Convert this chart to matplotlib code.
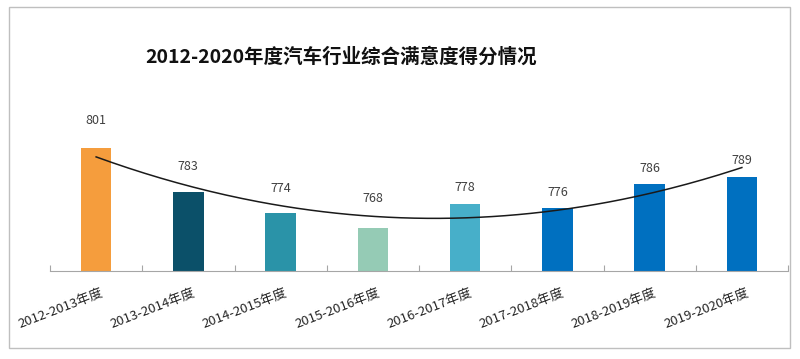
import numpy as np
import matplotlib
matplotlib.use("Agg")
import matplotlib.pyplot as plt
from matplotlib.patches import Rectangle

plt.rcParams['font.family'] = ['Noto Sans CJK SC', 'DejaVu Sans']

# ── data ─────────────────────────────────────────────
categories = ['2012-2013年度', '2013-2014年度', '2014-2015年度', '2015-2016年度',
              '2016-2017年度', '2017-2018年度', '2018-2019年度', '2019-2020年度']
scores = [801, 783, 774, 768, 778, 776, 786, 789]
title = '2012-2020年度汽车行业综合满意度得分情况'

# ── style ────────────────────────────────────────────
bar_colors = ['#F59D3D', '#0B5069', '#2A93A8', '#95CBB5',
              '#47AFC9', '#0070C0', '#0070C0', '#0070C0']
label_pad_pt = [15, 13, 13, 16, 7, 7, 7, 7]

W, H = 800, 359
fig = plt.figure(figsize=(W / 100, H / 100), dpi=100)

# outer frame
fig.patches.append(Rectangle((9 / W, (H - 348) / H), 781 / W, 341 / H,
                             transform=fig.transFigure, fill=False,
                             edgecolor='#BFBFBF', linewidth=1.0))

ax = fig.add_axes([50 / W, (H - 271) / H, 738 / W, 171 / H])
x = np.arange(len(scores))
ax.bar(x, scores, width=0.33, color=bar_colors, bottom=0, zorder=2)
ax.set_xlim(-0.5, len(scores) - 0.5)
ax.set_ylim(750, 821)

# polynomial (order 2) trendline, like the spreadsheet one
coef = np.polyfit(x, scores, 2)
xs = np.linspace(0, len(scores) - 1, 200)
ax.plot(xs, np.polyval(coef, xs), color='#1A1A1A', linewidth=1.1, zorder=3)

for xi, v, pad in zip(x, scores, label_pad_pt):
    ax.annotate(str(v), (xi, v), xytext=(0, pad), textcoords='offset points',
                ha='center', va='bottom', fontsize=9, color='#404040')

for s in ['top', 'right', 'left']:
    ax.spines[s].set_visible(False)
ax.spines['bottom'].set_color('#A6A6A6')
ax.set_yticks([])
ax.set_xticks(np.arange(-0.5, len(scores), 1.0))
ax.set_xticklabels([])
ax.tick_params(axis='x', direction='in', length=4, color='#A6A6A6')

for xi, c in zip(x, categories):
    ax.annotate(c, (xi, 750), xytext=(3, -11), textcoords='offset points',
                ha='right', va='top', rotation=21, rotation_mode='anchor',
                fontsize=9.5, color='#262626', annotation_clip=False)

fig.text(341 / W, (H - 57) / H, title, ha='center', va='center',
         fontsize=14, fontweight='bold', color='#111111')

fig.savefig('out.png', dpi=100)
